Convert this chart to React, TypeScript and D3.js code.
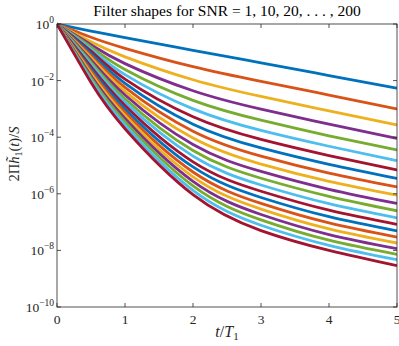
import * as d3 from "d3";

// SNR of each curve, in drawing order
const snrValues = [1, 10, 20, 30, 40, 50, 60, 70, 80, 90, 100, 110, 120, 130, 140, 150, 160, 170, 180, 190, 200];

// sample times t/T1
const tValues = [0, 0.5, 1, 2, 3, 4, 5];

// decades below 1 (-log10 of 2*Pi*h1(t)/S) for every SNR, one array per sample time
const decadesT0 = [0, 0, 0, 0, 0, 0, 0, 0, 0, 0, 0, 0, 0, 0, 0, 0, 0, 0, 0, 0, 0];
const decadesT05 = [0.25, 0.47, 0.63, 0.73, 0.81, 0.89, 0.96, 1.04, 1.12, 1.19, 1.27, 1.35, 1.42, 1.51, 1.59, 1.66, 1.74, 1.83, 1.9, 1.98, 2.07];
const decadesT1 = [0.48, 0.86, 1.16, 1.4, 1.61, 1.79, 1.95, 2.1, 2.24, 2.38, 2.51, 2.64, 2.76, 2.88, 3.0, 3.12, 3.23, 3.34, 3.45, 3.57, 3.7];
const decadesT2 = [0.93, 1.51, 1.97, 2.36, 2.7, 3.0, 3.28, 3.54, 3.79, 4.03, 4.26, 4.47, 4.67, 4.87, 5.05, 5.23, 5.4, 5.56, 5.72, 5.88, 6.03];
const decadesT3 = [1.37, 2.03, 2.56, 3.01, 3.4, 3.76, 4.08, 4.38, 4.67, 4.95, 5.21, 5.45, 5.69, 5.91, 6.13, 6.34, 6.54, 6.73, 6.92, 7.11, 7.3];
const decadesT4 = [1.82, 2.51, 3.07, 3.54, 3.95, 4.32, 4.65, 4.96, 5.27, 5.56, 5.84, 6.09, 6.35, 6.58, 6.81, 7.03, 7.24, 7.44, 7.64, 7.82, 8.0];
const decadesT5 = [2.27, 3.0, 3.57, 4.04, 4.45, 4.83, 5.16, 5.46, 5.76, 6.05, 6.34, 6.6, 6.85, 7.08, 7.31, 7.53, 7.74, 7.94, 8.14, 8.33, 8.54];

const decadesByTime = [decadesT0, decadesT05, decadesT1, decadesT2, decadesT3, decadesT4, decadesT5];

const xTicks = [0, 1, 2, 3, 4, 5];
const yTickExponents = [0, -2, -4, -6, -8, -10];

// matlab default color order
const colors = ["#0072BD", "#D95319", "#EDB120", "#7E2F8E", "#77AC30", "#4DBEEE", "#A2142F"];

const width = 399;
const height = 346;
const margin = { top: 24, right: 2, bottom: 39, left: 57 };
const font = "'Liberation Serif', 'DejaVu Serif', serif";
const axisColor = "#262626";

export default function App() {
  const x0 = margin.left;
  const x1 = width - margin.right;
  const y0 = margin.top;
  const y1 = height - margin.bottom;

  const x = d3.scaleLinear().domain([0, 5]).range([x0, x1]);
  const y = d3.scaleLog().domain([1e-10, 1]).range([y1, y0]);

  const line = d3
    .line<[number, number]>()
    .x((d) => x(d[0]))
    .y((d) => y(d[1]))
    .curve(d3.curveNatural);

  const series = snrValues.map((snr, i) =>
    tValues.map((t, j) => [t, Math.pow(10, -decadesByTime[j][i])] as [number, number])
  );

  const tickLen = 4;

  return (
    <svg
      width={width}
      height={height}
      style={{ position: "absolute", left: 0, top: 0, background: "#fff" }}
      fontFamily={font}
    >
      <rect x={0} y={0} width={width} height={height} fill="#fff" />

      {/* curves */}
      <clipPath id="plot">
        <rect x={x0} y={y0 - 2} width={x1 - x0} height={y1 - y0 + 2} />
      </clipPath>
      <g clipPath="url(#plot)">
        {series.map((pts, i) => (
          <path
            key={snrValues[i]}
            d={line(pts) || ""}
            fill="none"
            stroke={colors[i % colors.length]}
            strokeWidth={2.8}
            strokeLinejoin="round"
          />
        ))}
      </g>

      {/* box */}
      <rect x={x0} y={y0} width={x1 - x0} height={y1 - y0} fill="none" stroke={axisColor} strokeWidth={0.8} />

      {/* x ticks */}
      {xTicks.map((t) => (
        <g key={"x" + t}>
          <line x1={x(t)} x2={x(t)} y1={y1} y2={y1 - tickLen} stroke={axisColor} strokeWidth={0.8} />
          <line x1={x(t)} x2={x(t)} y1={y0} y2={y0 + tickLen} stroke={axisColor} strokeWidth={0.8} />
          <text x={x(t)} y={y1 + 17} textAnchor="middle" fontSize={13.5} fill="#262626">
            {t}
          </text>
        </g>
      ))}

      {/* y ticks */}
      {yTickExponents.map((e) => {
        const yy = y(Math.pow(10, e));
        return (
          <g key={"y" + e}>
            <line x1={x0} x2={x0 + tickLen} y1={yy} y2={yy} stroke={axisColor} strokeWidth={0.8} />
            <line x1={x1} x2={x1 - tickLen} y1={yy} y2={yy} stroke={axisColor} strokeWidth={0.8} />
            <text x={x0 - 3} y={yy + 5} textAnchor="end" fontSize={13.5} fill="#262626">
              10
              <tspan dy={-6} fontSize={9.5}>
                {e === 0 ? "0" : "\u2212" + Math.abs(e)}
              </tspan>
            </text>
          </g>
        );
      })}

      {/* title */}
      <text x={(x0 + x1) / 2} y={16} textAnchor="middle" fontSize={15.5} fill="#000">
        Filter shapes for SNR = 1, 10, 20, . . . , 200
      </text>

      {/* x label */}
      <text x={(x0 + x1) / 2} y={337} textAnchor="middle" fontSize={16} fill="#262626">
        <tspan fontStyle="italic">t</tspan>/<tspan fontStyle="italic">T</tspan>
        <tspan dy={3} fontSize={11}>1</tspan>
      </text>

      {/* y label */}
      <text
        transform={`translate(19, 154) rotate(-90)`}
        textAnchor="middle"
        fontSize={14.5}
        fill="#262626"
      >
        2Π<tspan fontStyle="italic">h̃</tspan>
        <tspan dy={3} fontSize={10}>1</tspan>
        <tspan dy={-3}>(</tspan>
        <tspan fontStyle="italic">t</tspan>)/<tspan fontStyle="italic">S</tspan>
      </text>
    </svg>
  );
}
